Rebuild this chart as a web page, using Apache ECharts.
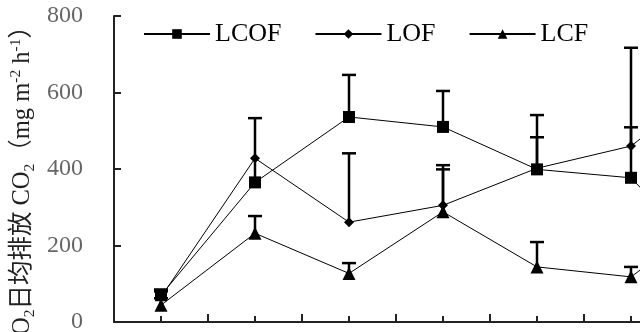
<!DOCTYPE html>
<html>
<head>
<meta charset="utf-8">
<script src="https://cdn.jsdelivr.net/npm/echarts@6/dist/echarts.min.js"></script>
<style>
html,body{margin:0;padding:0;background:#fff;}
#chart{width:640px;height:332px;}
</style>
</head>
<body>
<div id="chart"></div>
<script>
// ---- data ----
var xValues = [1, 3, 5, 7, 9, 11, 13];
var seriesNames = ['LCOF', 'LOF', 'LCF'];
var lcof = [70, 365, 536, 510, 399, 377, 120];
var lof  = [65, 428, 261, 305, 402, 460, 650];
var lcf  = [44, 232, 127, 288, 144, 118, 300];
// upper ends of error bars (null = none)
var lcofUpper = [85, 533, 646, 604, 541, 509, null];
var lofUpper  = [80, null, 441, 410, 483, 717, null];
var lcfUpper  = [62, 277, 154, 399, 209, 144, null];
var yTicks = [0, 200, 400, 600, 800];

var serif = "'Liberation Serif', 'DejaVu Serif', serif";

function pairs(vals) {
  return xValues.map(function (x, i) { return [x, vals[i]]; });
}
function errData(vals, ups) {
  var out = [];
  xValues.forEach(function (x, i) {
    if (ups[i] != null) out.push([x, vals[i], ups[i]]);
  });
  return out;
}
function renderErr(params, api) {
  var x = api.value(0), lo = api.value(1), hi = api.value(2);
  var p0 = api.coord([x, lo]), p1 = api.coord([x, hi]);
  var w = 7;
  return {
    type: 'group',
    children: [
      {type: 'line', shape: {x1: p0[0], y1: p0[1], x2: p1[0], y2: p1[1]},
       style: {stroke: '#000', lineWidth: 2.5}},
      {type: 'line', shape: {x1: p1[0] - w, y1: p1[1], x2: p1[0] + w, y2: p1[1]},
       style: {stroke: '#000', lineWidth: 2.5}}
    ]
  };
}

var symbols = ['rect', 'diamond', 'triangle'];
var symbolSizes = [12, 10, 13];
var vals = [lcof, lof, lcf];
var ups = [lcofUpper, lofUpper, lcfUpper];

var series = [];
seriesNames.forEach(function (name, k) {
  series.push({
    type: 'custom',
    name: name + '_err',
    renderItem: renderErr,
    data: errData(vals[k], ups[k]),
    z: 1,
    clip: true,
    silent: true
  });
});
seriesNames.forEach(function (name, k) {
  series.push({
    type: 'line',
    name: name,
    data: pairs(vals[k]),
    symbol: symbols[k],
    symbolSize: symbolSizes[k],
    showAllSymbol: true,
    clip: true,
    itemStyle: {color: '#000'},
    lineStyle: {color: '#000', width: 1},
    z: 3,
    animation: false
  });
});

var chart = echarts.init(document.getElementById('chart'), null, {renderer: 'canvas'});
chart.setOption({
  animation: false,
  backgroundColor: '#fff',
  grid: {left: 114, top: 16, width: 658, height: 306, containLabel: false, outerBoundsMode: 'none'},
  legend: {
    data: seriesNames,
    left: 143,
    top: 21,
    padding: 0,
    itemWidth: 66,
    itemHeight: 12,
    itemGap: 33,
    textStyle: {fontFamily: serif, fontSize: 26, color: '#000'}
  },
  xAxis: {
    type: 'value',
    min: 0,
    max: 14,
    interval: 2,
    axisLine: {show: true, lineStyle: {color: '#222', width: 2}},
    axisTick: {show: true, inside: true, length: 8, lineStyle: {color: '#222', width: 2}},
    minorTick: {show: true, splitNumber: 2, length: 6, lineStyle: {color: '#222', width: 2}},
    axisLabel: {show: false},
    splitLine: {show: false}
  },
  yAxis: {
    type: 'value',
    min: yTicks[0],
    max: yTicks[yTicks.length - 1],
    interval: 200,
    axisLine: {show: true, lineStyle: {color: '#222', width: 2}},
    axisTick: {show: true, inside: true, length: 7, lineStyle: {color: '#222', width: 2}},
    axisLabel: {show: true, margin: 31, fontFamily: serif, fontSize: 24, color: '#666'},
    splitLine: {show: false}
  },
  graphic: [{
    type: 'text',
    x: 23,
    y: 14,
    rotation: Math.PI / 2,
    style: {
      text: '{n|CO}{s|2}{n|日均排放 CO}{s|2}{n|（mg m}{p|-2}{n| h}{p|-1}{n|）}',
      textAlign: 'right',
      textVerticalAlign: 'middle',
      fill: '#222',
      rich: {
        n: {fontFamily: serif + ", 'Noto Sans CJK SC'", fontSize: 24.5, lineHeight: 30, verticalAlign: 'middle', fill: '#222'},
        s: {fontFamily: serif, fontSize: 15.5, lineHeight: 30, verticalAlign: 'bottom', fill: '#222'},
        p: {fontFamily: serif, fontSize: 15.5, lineHeight: 30, verticalAlign: 'top', fill: '#222'}
      }
    }
  }],
  series: series
});
</script>
</body>
</html>
